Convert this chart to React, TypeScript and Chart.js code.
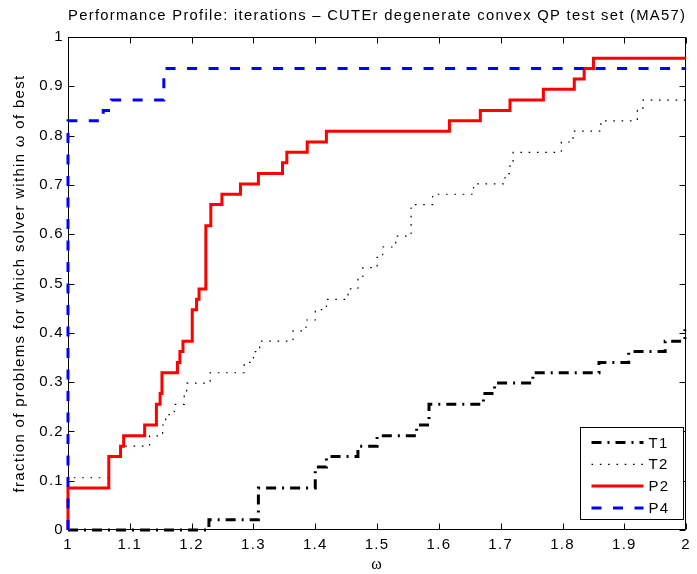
import React, { useEffect, useRef } from "react";
import { Chart, registerables } from "chart.js";

Chart.register(...registerables);

// ---- data ----
const seriesNames = ["T1", "T2", "P2", "P4"];

const t1X = [1, 1.228, 1.308, 1.4, 1.418, 1.469, 1.5, 1.564, 1.584, 1.672, 1.69, 1.752, 1.859, 1.907, 1.966, 1.998, 2];
const t1Y = [0, 0.021, 0.085, 0.128, 0.149, 0.17, 0.191, 0.213, 0.255, 0.277, 0.298, 0.319, 0.34, 0.362, 0.383, 0.404, 0.404];

const t2X = [1, 1, 1.066, 1.085, 1.132, 1.153, 1.158, 1.172, 1.188, 1.192, 1.23, 1.285, 1.3, 1.31, 1.364, 1.385, 1.4, 1.418, 1.453, 1.469, 1.477, 1.5, 1.509, 1.53, 1.555, 1.59, 1.656, 1.707, 1.715, 1.72, 1.798, 1.817, 1.862, 1.921, 1.93, 2];
const t2Y = [0, 0.106, 0.149, 0.17, 0.191, 0.213, 0.234, 0.255, 0.277, 0.298, 0.319, 0.34, 0.362, 0.383, 0.404, 0.426, 0.447, 0.468, 0.489, 0.511, 0.532, 0.553, 0.574, 0.596, 0.66, 0.681, 0.702, 0.723, 0.745, 0.766, 0.787, 0.809, 0.83, 0.851, 0.872, 0.872];

const p2X = [1, 1, 1.066, 1.085, 1.09, 1.124, 1.143, 1.149, 1.152, 1.177, 1.181, 1.186, 1.201, 1.208, 1.212, 1.223, 1.231, 1.249, 1.279, 1.308, 1.347, 1.354, 1.387, 1.418, 1.617, 1.667, 1.715, 1.769, 1.819, 1.835, 1.85, 2];
const p2Y = [0, 0.085, 0.149, 0.17, 0.191, 0.213, 0.255, 0.277, 0.319, 0.34, 0.362, 0.383, 0.447, 0.468, 0.489, 0.617, 0.66, 0.681, 0.702, 0.723, 0.745, 0.766, 0.787, 0.809, 0.83, 0.851, 0.872, 0.894, 0.915, 0.936, 0.957, 0.957];

const p4X = [1, 1, 1.057, 1.07, 1.155, 2];
const p4Y = [0, 0.83, 0.851, 0.872, 0.936, 0.936];

const xTickValues = [1, 1.1, 1.2, 1.3, 1.4, 1.5, 1.6, 1.7, 1.8, 1.9, 2];
const yTickValues = [0, 0.1, 0.2, 0.3, 0.4, 0.5, 0.6, 0.7, 0.8, 0.9, 1];

const titleText = "Performance Profile: iterations \u2013 CUTEr degenerate convex QP test set (MA57)";
const xAxisTitle = "\u03c9";
const yAxisTitle = "fraction of problems for which solver within \u03c9 of best";

const FONT = "'Liberation Sans', Arial, Helvetica, sans-serif";
const SPACING = "1.3px";

const styles = [
  { color: "#000000", width: 3, dash: [10, 6, 2, 6] },
  { color: "#000000", width: 1.2, dash: [1.6, 6.7] },
  { color: "#ff0000", width: 3, dash: [] as number[] },
  { color: "#0000ff", width: 3, dash: [10, 11.5] },
];

const zip = (xs: number[], ys: number[]) => xs.map((x, i) => ({ x, y: ys[i] }));

const setSpacing = (chart: any) => {
  try {
    chart.ctx.letterSpacing = SPACING;
  } catch (e) {
    /* ignore */
  }
};

const spacingPlugin = {
  id: "spacing",
  beforeInit: setSpacing,
  beforeLayout: setSpacing,
  beforeDraw: setSpacing,
};

const frameAndTicks = {
  id: "frameAndTicks",
  beforeDatasetsDraw(chart: any) {
    const { ctx, chartArea } = chart;
    const { left, right, top, bottom } = chartArea;
    const xs = chart.scales.x;
    const ys = chart.scales.y;
    const L = Math.round(left) + 0.5;
    const R = Math.round(right) - 0.5;
    const T = Math.round(top) + 0.5;
    const B = Math.round(bottom) - 0.5;
    ctx.save();
    ctx.strokeStyle = "#000";
    ctx.lineWidth = 1;
    ctx.beginPath();
    ctx.rect(L, T, R - L, B - T);
    const tl = 6;
    xTickValues.forEach((v) => {
      const px = Math.round(xs.getPixelForValue(v)) + 0.5;
      ctx.moveTo(px, B);
      ctx.lineTo(px, B - tl);
      ctx.moveTo(px, T);
      ctx.lineTo(px, T + tl);
    });
    yTickValues.forEach((v) => {
      const py = Math.round(ys.getPixelForValue(v)) + 0.5;
      ctx.moveTo(L, py);
      ctx.lineTo(L + tl, py);
      ctx.moveTo(R, py);
      ctx.lineTo(R - tl, py);
    });
    ctx.stroke();
    ctx.restore();
  },
};

const boxLegend = {
  id: "boxLegend",
  afterDraw(chart: any) {
    const { ctx, chartArea } = chart;
    const boxRight = chartArea.right - 3;
    const boxBottom = chartArea.bottom - 11;
    const boxW = 103;
    const boxH = 92;
    const bx = Math.round(boxRight - boxW) + 0.5;
    const by = Math.round(boxBottom - boxH) + 0.5;
    ctx.save();
    ctx.fillStyle = "#fff";
    ctx.fillRect(bx, by, boxW, boxH);
    ctx.strokeStyle = "#000";
    ctx.lineWidth = 1;
    ctx.setLineDash([]);
    ctx.strokeRect(bx, by, boxW, boxH);
    ctx.font = `15px ${FONT}`;
    ctx.textBaseline = "middle";
    ctx.textAlign = "left";
    seriesNames.forEach((name, i) => {
      const cy = by + 15 + i * 21.8;
      const st = styles[i];
      ctx.beginPath();
      ctx.strokeStyle = st.color;
      ctx.lineWidth = st.width;
      ctx.setLineDash(st.dash);
      ctx.moveTo(bx + 11, cy);
      ctx.lineTo(bx + 63, cy);
      ctx.stroke();
      ctx.setLineDash([]);
      ctx.fillStyle = "#000";
      ctx.fillText(name, bx + 68, cy + 1);
    });
    ctx.restore();
  },
};

export default function App() {
  const ref = useRef<HTMLCanvasElement | null>(null);

  useEffect(() => {
    document.body.style.margin = "0";
    const canvas = ref.current;
    if (!canvas) return;
    const data = [zip(t1X, t1Y), zip(t2X, t2Y), zip(p2X, p2Y), zip(p4X, p4Y)];
    const chart = new Chart(canvas, {
      type: "line",
      data: {
        datasets: seriesNames.map((name, i) => ({
          label: name,
          data: data[i],
          borderColor: styles[i].color,
          borderWidth: styles[i].width,
          borderDash: styles[i].dash,
          pointRadius: 0,
          stepped: "before" as const,
          fill: false,
          clip: false as any,
          order: 3 - i,
        })),
      },
      options: {
        animation: false,
        responsive: false,
        events: [],
        layout: { padding: { left: 0, right: 6, top: 0, bottom: 0 } },
        plugins: {
          legend: { display: false },
          tooltip: { enabled: false },
          title: {
            display: true,
            fullSize: false,
            text: titleText,
            color: "#000",
            font: { family: FONT, size: 15, weight: "normal" },
            padding: { top: 7, bottom: 12 },
          },
        },
        scales: {
          x: {
            type: "linear",
            min: 1,
            max: 2,
            afterBuildTicks: (scale: any) => {
              scale.ticks = xTickValues.map((v) => ({ value: v }));
            },
            afterFit: (scale: any) => {
              scale.height = 44;
            },
            grid: { display: false, drawTicks: false },
            border: { display: false },
            ticks: {
              color: "#000",
              padding: 6,
              maxRotation: 0,
              autoSkip: false,
              font: { family: FONT, size: 15 },
              callback: (v: any) => String(Math.round(Number(v) * 10) / 10),
            },
            title: {
              display: true,
              text: xAxisTitle,
              color: "#000",
              font: { family: "'Liberation Serif', 'DejaVu Serif', serif", size: 16 },
              padding: { top: 0, bottom: 0 },
            },
          },
          y: {
            type: "linear",
            min: 0,
            max: 1,
            afterBuildTicks: (scale: any) => {
              scale.ticks = yTickValues.map((v) => ({ value: v }));
            },
            afterFit: (scale: any) => {
              scale.width = 68;
            },
            grid: { display: false, drawTicks: false },
            border: { display: false },
            ticks: {
              color: "#000",
              padding: 4,
              autoSkip: false,
              font: { family: FONT, size: 15 },
              callback: (v: any) => String(Math.round(Number(v) * 10) / 10),
            },
            title: {
              display: true,
              text: yAxisTitle,
              color: "#000",
              font: { family: FONT, size: 15 },
              padding: { top: 11, bottom: 0 },
            },
          },
        },
      },
      plugins: [spacingPlugin, frameAndTicks, boxLegend],
    });
    return () => chart.destroy();
  }, []);

  return <canvas ref={ref} width={697} height={574} style={{ display: "block", width: 697, height: 574 }} />;
}
